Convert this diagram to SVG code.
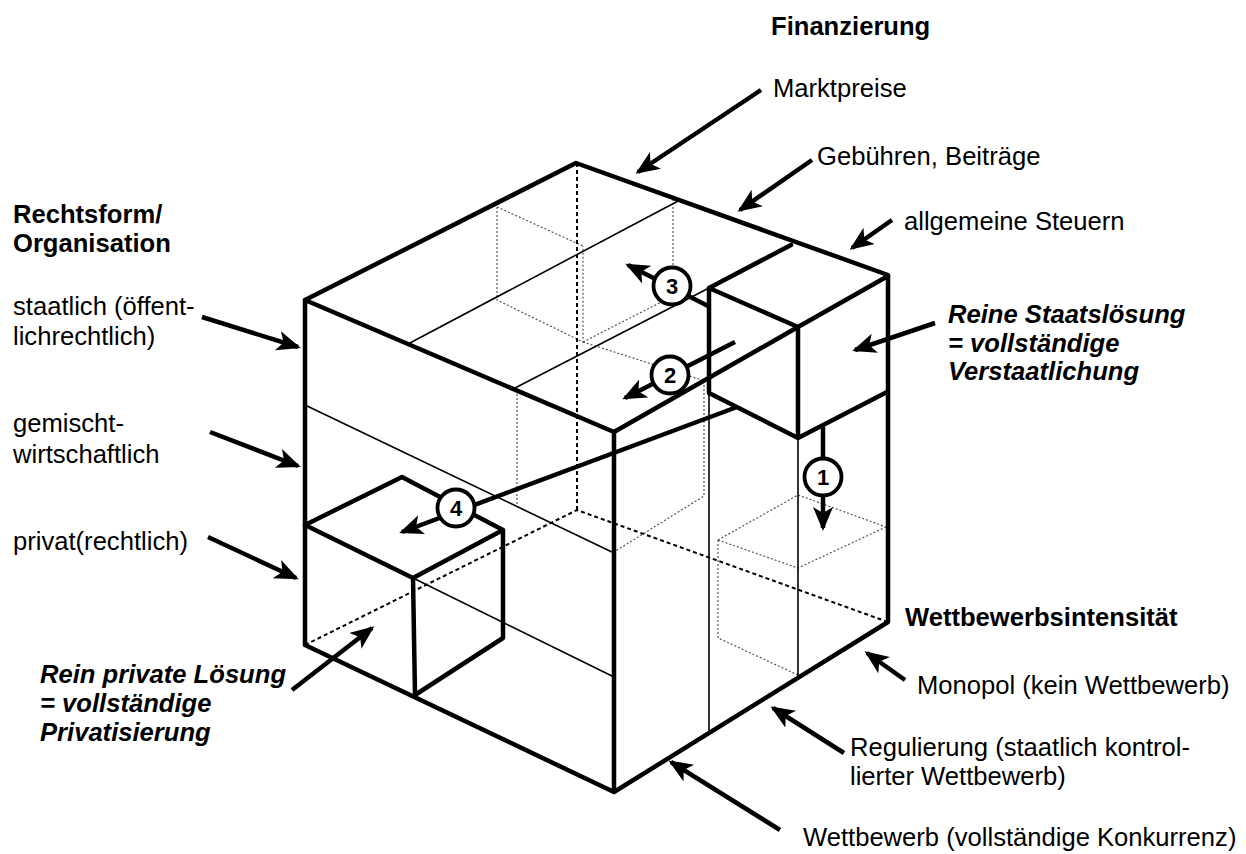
<svg xmlns="http://www.w3.org/2000/svg" width="1246" height="854" viewBox="0 0 1246 854">
<style>
 text { font-family: "Liberation Sans", Arial, sans-serif; fill:#000; font-size:25.6px; }
 .head { font-weight:bold; }
 .sol { font-weight:bold; font-style:italic; }
 .num { font-size:22px; font-weight:bold; text-anchor:middle; }
 .thick { stroke:#000; stroke-width:4.5; fill:none; stroke-linecap:round; stroke-linejoin:round; }
 .thin { stroke:#000; stroke-width:1.6; fill:none; }
 .hid { stroke:#000; stroke-width:2; stroke-dasharray:4 3; fill:none; }
 .ghost { stroke:#555; stroke-width:1.2; stroke-dasharray:2 2; fill:none; }
 .arr { stroke:#000; stroke-width:4.5; fill:none; marker-end:url(#ah); }
 .circ { fill:#fff; stroke:#000; stroke-width:3.8; }
</style>
<defs>
 <marker id="ah" markerUnits="userSpaceOnUse" markerWidth="26" markerHeight="22" refX="21" refY="10" orient="auto">
  <path d="M0,0 L24,10 L0,20 L6,10 z" fill="#000"/>
 </marker>
</defs>
<rect width="1246" height="854" fill="#fff"/>

<g id="main-cube">
 <g id="ghosts">
  <path class="ghost" d="M497,207 L497,300 L583,342 L583,246 M497,207 L583,246 M583,342 L673,296 L673,198"/>
  <path class="ghost" d="M517,390 L517,507 M583,342 L705,381 M704,381 L704,496 L614,552"/>
  <path class="ghost" d="M718,540 L798,495 L886,527 M718,540 L798,568 L886,527 M718,540 L718,638 L798,675"/>
 </g>
 <path class="hid" d="M577,163 L577,510 M305,645 L577,510 L888,622"/>
 <path class="thin" d="M408,344 L680,200 M513,389 L709,288 M305,405 L614,553 M413,578 L614,677 M709,393 L709,733 M798,437 L798,678"/>
 <path class="thick" d="M305,300 L576,163 L888,275 L888,622 L614,792 L305,645 Z M305,300 L614,432 L798,327 M614,432 L614,792"/>
</g>

<g id="staatsloesung">
 <path class="thick" d="M791,245 L709,288 L798,327 L888,276 M709,288 L709,393 L798,438 L887,392 M798,327 L798,438"/>
</g>

<g id="privatloesung">
 <path class="thick" d="M305,525 L402,477 L503,530 L413,578 Z M413,578 L415,695 L503,638 L503,530"/>
</g>

<g id="connectors">
 <line class="arr" x1="823" y1="427" x2="823" y2="528"/>
 <line class="arr" x1="735" y1="342" x2="625" y2="398"/>
 <line class="arr" x1="708" y1="306" x2="628" y2="265"/>
 <line class="arr" x1="737" y1="407" x2="402" y2="532"/>
 <line class="arr" x1="761" y1="90" x2="638" y2="172"/>
 <line class="arr" x1="812" y1="160" x2="740" y2="210"/>
 <line class="arr" x1="892" y1="220" x2="852" y2="248"/>
 <line class="arr" x1="202" y1="317" x2="298" y2="347"/>
 <line class="arr" x1="210" y1="432" x2="298" y2="466"/>
 <line class="arr" x1="208" y1="537" x2="296" y2="578"/>
 <line class="arr" x1="935" y1="323" x2="855" y2="350"/>
 <line class="arr" x1="292" y1="690" x2="372" y2="628"/>
 <line class="arr" x1="905" y1="680" x2="867" y2="653"/>
 <line class="arr" x1="844" y1="753" x2="773" y2="708"/>
 <line class="arr" x1="780" y1="830" x2="671" y2="762"/>
</g>

<g id="step1"><circle class="circ" cx="823" cy="477" r="18.5"/><text class="num" x="823" y="485">1</text></g>
<g id="step2"><circle class="circ" cx="670" cy="375" r="18.5"/><text class="num" x="670" y="383">2</text></g>
<g id="step3"><circle class="circ" cx="672" cy="286" r="18.5"/><text class="num" x="672" y="294">3</text></g>
<g id="step4"><circle class="circ" cx="456" cy="508" r="18.5"/><text class="num" x="456" y="516">4</text></g>

<g id="labels-finanzierung">
 <text class="head" x="771" y="35">Finanzierung</text>
 <text x="773" y="97">Marktpreise</text>
 <text x="817" y="165">Gebühren, Beiträge</text>
 <text x="904" y="230">allgemeine Steuern</text>
</g>
<g id="labels-rechtsform">
 <text class="head" x="13" y="223">Rechtsform/</text>
 <text class="head" x="13" y="252">Organisation</text>
 <text x="13" y="315">staatlich (öffent-</text>
 <text x="13" y="345">lichrechtlich)</text>
 <text x="13" y="432">gemischt-</text>
 <text x="13" y="463">wirtschaftlich</text>
 <text x="13" y="550">privat(rechtlich)</text>
</g>
<g id="labels-wettbewerb">
 <text class="head" x="905" y="626">Wettbewerbsintensität</text>
 <text x="917" y="694">Monopol (kein Wettbewerb)</text>
 <text x="850" y="756">Regulierung (staatlich kontrol-</text>
 <text x="850" y="785">lierter Wettbewerb)</text>
 <text x="803" y="846">Wettbewerb (vollständige Konkurrenz)</text>
</g>
<g id="label-staat">
 <text class="sol" x="948" y="323">Reine Staatslösung</text>
 <text class="sol" x="948" y="352">= vollständige</text>
 <text class="sol" x="948" y="380">Verstaatlichung</text>
</g>
<g id="label-privat">
 <text class="sol" x="40" y="683">Rein private Lösung</text>
 <text class="sol" x="40" y="712">= vollständige</text>
 <text class="sol" x="40" y="741">Privatisierung</text>
</g>
</svg>
